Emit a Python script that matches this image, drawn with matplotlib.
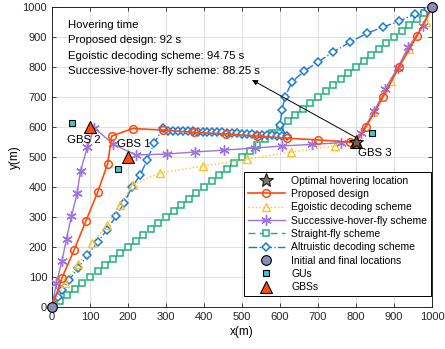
import matplotlib
matplotlib.use('Agg')
import matplotlib.pyplot as plt

plt.rcParams['font.family'] = ['Liberation Sans', 'DejaVu Sans']

# Proposed design
prop_x = [0, 26, 58, 89, 120, 146, 157, 212, 292, 374, 457, 539, 618, 700, 784, 800, 826, 871, 913, 960, 1000]
prop_y = [0, 97, 190, 287, 383, 477, 570, 595, 590, 582, 577, 570, 563, 557, 550, 550, 600, 700, 800, 903, 1000]

# Egoistic decoding scheme
ego_x = [0, 34, 69, 105, 144, 179, 212, 283, 398, 513, 630, 745, 800, 845, 893, 940, 984, 1000]
ego_y = [0, 80, 143, 213, 273, 340, 407, 447, 470, 493, 517, 537, 550, 650, 755, 860, 950, 1000]

# Successive-hover-fly scheme
shf_x = [0, 11, 26, 38, 51, 66, 75, 93, 111, 161, 220, 302, 376, 452, 534, 605, 683, 760, 800, 813, 848, 877, 909, 937, 975, 1000]
shf_y = [0, 80, 153, 228, 303, 380, 455, 533, 597, 543, 507, 510, 517, 523, 530, 537, 542, 548, 550, 580, 652, 727, 797, 865, 935, 1000]

# Straight-fly scheme
str_x = [0, 20, 40, 60, 80, 100, 120, 140, 160, 180, 200, 220, 240, 260, 280, 300, 320, 340, 360, 380,
         400, 420, 440, 460, 480, 500, 520, 540, 560, 580, 600, 620, 640, 660, 680, 700, 720, 740, 760, 780,
         800, 820, 840, 860, 880, 900, 920, 940, 960, 980, 1000]
str_y = [0, 20, 40, 60, 80, 100, 120, 140, 160, 180, 200, 220, 240, 260, 280, 300, 320, 340, 360, 380,
         400, 420, 440, 460, 480, 500, 520, 540, 560, 580, 600, 620, 640, 660, 680, 700, 720, 740, 760, 780,
         800, 820, 840, 860, 880, 900, 920, 940, 960, 980, 1000]

# Altruistic decoding scheme
alt_x = [0, 16, 26, 45, 68, 92, 121, 144, 168, 190, 210, 232, 250, 269, 292,
         305, 318, 331, 344, 357, 370, 383, 396, 409, 422, 435, 448, 461, 474, 487, 500,
         513, 526, 539, 552, 565, 578, 591, 604, 617,
         600, 605, 613, 631, 664, 700, 740, 784, 828, 870, 912, 956, 989, 1000]
alt_y = [0, 33, 57, 90, 130, 173, 217, 257, 303, 347, 400, 440, 490, 547, 597,
         588, 588, 587, 587, 586, 586, 585, 584, 584, 583, 582, 582, 581, 580, 579, 578,
         577, 576, 575, 574, 573, 572, 571, 570, 569,
         607, 657, 700, 750, 787, 817, 850, 883, 912, 933, 952, 977, 993, 1000]

# other markers
end_x = [0, 1000]
end_y = [0, 1000]
gu_x = [52, 173, 842]
gu_y = [613, 460, 580]
gbs_x = [200, 100, 800]
gbs_y = [500, 600, 550]
gbs_names = ['GBS 1', 'GBS 2', 'GBS 3']
hover_x = [800]
hover_y = [550]

hover_text = ['Hovering time',
              'Proposed design: 92 s',
              'Egoistic decoding scheme: 94.75 s',
              'Successive-hover-fly scheme: 88.25 s']

c_red = '#FF4A0E'
c_yel = '#FFC125'
c_pur = '#9A74E0'
c_grn = '#22B27C'
c_blu = '#1C7AD6'

fig = plt.figure(figsize=(4.45, 3.49), dpi=100)
ax = fig.add_axes([0.117, 0.120, 0.854, 0.860])

ax.plot(str_x, str_y, color=c_grn, ls=(0, (5, 3)), lw=1.0, marker='s', ms=4.2, mfc='white', mew=1.1,
        label='Straight-fly scheme', zorder=3)
ax.plot(alt_x, alt_y, color=c_blu, ls='-.', lw=1.0, marker='D', ms=4.2, mfc='white', mew=1.1,
        label='Altruistic decoding scheme', zorder=3)
ax.plot(ego_x, ego_y, color=c_yel, ls=':', lw=1.0, marker='^', ms=6, mfc='none', mew=1.0,
        label='Egoistic decoding scheme', zorder=3)
ax.plot(shf_x, shf_y, color=c_pur, ls='-', lw=1.0, marker=(6, 2, 0), ms=7.5, mew=1.0,
        label='Successive-hover-fly scheme', zorder=4)
mk = [i for i in range(len(prop_x)) if i != 15]
ax.plot(prop_x, prop_y, color=c_red, ls='-', lw=1.2, marker='o', ms=5.5, mfc='none', mew=1.1,
        markevery=mk, label='Proposed design', zorder=5)

ax.plot(gu_x, gu_y, ls='none', marker='s', ms=4.5, mfc='#42C6D6', mec='k', mew=0.8, label='GUs', zorder=6)
ax.plot(gbs_x, gbs_y, ls='none', marker='^', ms=9, mfc=c_red, mec='k', mew=0.8, label='GBSs', zorder=6)
ax.plot(hover_x, hover_y, ls='none', marker='*', ms=10, mfc='#56664F', mec='k', mew=0.8, alpha=0.85,
        label='Optimal hovering location', zorder=7)
ax.plot(end_x, end_y, ls='none', marker='o', ms=7, mfc='#8C8CB8', mec='k', mew=0.8,
        label='Initial and final locations', zorder=8, clip_on=False)

ax.text(39, 557, gbs_names[1], fontsize=8.2, va='center', zorder=9)
ax.text(171, 543, gbs_names[0], fontsize=8.2, va='center', zorder=9)
ax.text(805, 513, gbs_names[2], fontsize=8.2, va='center', zorder=9)

for i, t in enumerate(hover_text):
    ax.text(42, 940 - i * 51, t, fontsize=8.2, va='center', zorder=9)

ax.annotate('', xy=(526, 757), xytext=(797, 567),
            arrowprops=dict(arrowstyle='-|>', color='k', lw=0.7, mutation_scale=8,
                            shrinkA=0, shrinkB=0), zorder=9)

ax.set_xlim(0, 1000)
ax.set_ylim(0, 1000)
ax.set_xticks(range(0, 1001, 100))
ax.set_yticks(range(0, 1001, 100))
ax.tick_params(direction='in', length=3, width=0.6, top=True, right=True, labelsize=8, colors='#262626')
ax.grid(True, color='#DCDCDC', lw=0.6)
ax.set_axisbelow(True)
for s in ax.spines.values():
    s.set_linewidth(0.7)
    s.set_color('#262626')
ax.set_xlabel('x(m)', fontsize=8.5, labelpad=3)
ax.set_ylabel('y(m)', fontsize=8.5, labelpad=1)

h, l = ax.get_legend_handles_labels()
order = ['Optimal hovering location', 'Proposed design', 'Egoistic decoding scheme',
         'Successive-hover-fly scheme', 'Straight-fly scheme', 'Altruistic decoding scheme',
         'Initial and final locations', 'GUs', 'GBSs']
hh = [h[l.index(o)] for o in order]
leg = ax.legend(hh, order, loc='lower right', bbox_to_anchor=(0.997, 0.037), borderaxespad=0,
                fontsize=7.5, handlelength=3.6, labelspacing=0.32, handletextpad=0.6,
                borderpad=0.35, fancybox=False, framealpha=1, edgecolor='k')
leg.get_frame().set_linewidth(0.7)
leg.set_zorder(10)

fig.savefig('out.png', dpi=100)
